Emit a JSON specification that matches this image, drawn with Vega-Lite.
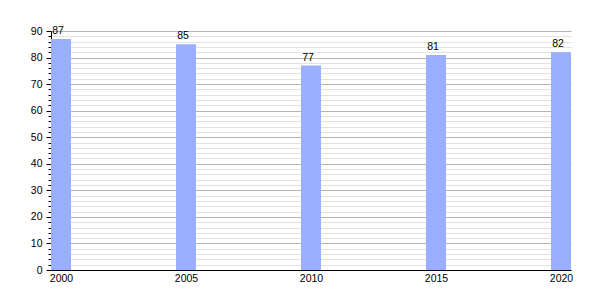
{
  "$schema": "https://vega.github.io/schema/vega-lite/v6.json",
  "autosize": "none",
  "padding": {"left": 51, "top": 31, "right": 29, "bottom": 30},
  "width": 520,
  "height": 239,
  "background": "white",
  "config": {"view": {"stroke": null}, "font": "Liberation Sans"},
  "data": {"values": [
    {"year": 2000, "value": 87},
    {"year": 2005, "value": 85},
    {"year": 2010, "value": 77},
    {"year": 2015, "value": 81},
    {"year": 2020, "value": 82}
  ]},
  "encoding": {
    "x": {"field": "year", "type": "quantitative",
      "scale": {"domain": [1999.6, 2020.4], "nice": false, "zero": false, "padding": 0},
      "axis": {"title": null, "values": [2000, 2005, 2010, 2015, 2020], "format": "d", "ticks": false, "grid": false,
        "domainColor": "black", "labelColor": "black", "labelFontSize": 10.5, "labelPadding": 3, "labelFlush": false, "labelDx": -2}},
    "y": {"field": "value", "type": "quantitative",
      "scale": {"domain": [0, 90], "nice": false},
      "axis": {"title": null,
        "values": [0,2,4,6,8,10,12,14,16,18,20,22,24,26,28,30,32,34,36,38,40,42,44,46,48,50,52,54,56,58,60,62,64,66,68,70,72,74,76,78,80,82,84,86,88,90],
        "labelExpr": "datum.value % 10 === 0 ? datum.label : ''",
        "labelOverlap": false,
        "labelColor": "black", "labelFontSize": 10.5, "labelPadding": 4,
        "domainColor": "black", "tickColor": "black",
        "tickSize": {"condition": {"test": "datum.value % 10 === 0", "value": 5}, "value": 3},
        "gridColor": {"condition": {"test": "datum.value % 10 === 0", "value": "#b4b4b4"}, "value": "#e2e2e2"},
        "gridOpacity": 1}}
  },
  "layer": [
    {"mark": {"type": "bar", "size": 20, "color": "#9aafff"}},
    {"mark": {"type": "text", "baseline": "bottom", "dy": -3, "dx": -3, "fontSize": 10.5, "color": "black"},
     "encoding": {"text": {"field": "value", "type": "quantitative"}}}
  ]
}
